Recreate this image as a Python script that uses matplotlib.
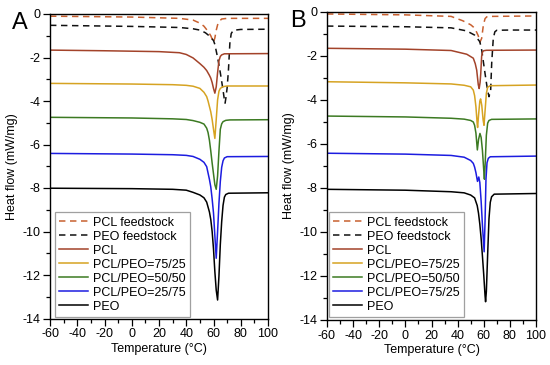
import matplotlib
matplotlib.use("Agg")
import matplotlib.pyplot as plt
from matplotlib.ticker import MultipleLocator

plt.rcParams['font.family'] = ['Liberation Sans', 'DejaVu Sans']
plt.rcParams['axes.unicode_minus'] = False

# ---------------- Panel A data (temperature in °C, heat flow in mW/mg) ----------------
T_A_PCLF = [-60, 0, 35, 45, 50, 53, 56, 58, 59, 60, 61, 62, 63, 64, 66, 70, 100]
HF_A_PCLF = [-0.10, -0.14, -0.20, -0.28, -0.42, -0.56, -0.80, -1.00, -1.15, -1.30, -1.10, -0.75, -0.50, -0.35, -0.23, -0.20, -0.20]

T_A_PEOF = [-60, 0, 35, 45, 50, 54, 56, 58, 60, 61, 62, 63, 64, 65, 66, 67, 68, 68.5, 69, 70, 71, 72, 73, 74.5, 80, 100]
HF_A_PEOF = [-0.52, -0.57, -0.62, -0.68, -0.74, -0.86, -0.96, -1.08, -1.22, -1.40, -1.70, -2.00, -2.35, -2.70, -3.10, -3.50, -3.95, -4.10, -3.90, -3.40, -2.55, -1.35, -0.90, -0.75, -0.71, -0.70]

T_A_PCL = [-60, -20, 20, 35, 40, 45, 50, 53, 55, 57, 58, 59, 60, 61, 62, 63, 64, 65, 66, 68, 100]
HF_A_PCL = [-1.66, -1.69, -1.73, -1.78, -1.86, -2.02, -2.28, -2.45, -2.60, -2.82, -2.95, -3.15, -3.42, -3.64, -3.35, -2.70, -2.15, -1.95, -1.88, -1.83, -1.82]

T_A_7525 = [-60, 0, 30, 40, 45, 50, 53, 55, 56, 57, 58, 59, 60, 61, 62, 63, 64, 65, 67, 70, 100]
HF_A_7525 = [-3.19, -3.22, -3.25, -3.28, -3.32, -3.42, -3.60, -3.80, -4.00, -4.25, -4.50, -4.85, -5.30, -5.72, -4.85, -3.95, -3.55, -3.42, -3.34, -3.31, -3.31]

T_A_5050 = [-60, 0, 30, 40, 45, 50, 53, 55, 56, 57, 58, 59, 60, 61, 62, 63, 64, 65, 66, 67, 69, 72, 100]
HF_A_5050 = [-4.75, -4.78, -4.82, -4.85, -4.90, -4.98, -5.06, -5.25, -5.45, -5.80, -6.30, -6.85, -7.35, -7.85, -8.06, -7.45, -6.30, -5.30, -5.05, -4.95, -4.89, -4.87, -4.86]

T_A_2575 = [-60, 0, 30, 40, 45, 50, 53, 55, 57, 58, 59, 60, 61, 62, 63, 64, 65, 66, 67, 68, 70, 100]
HF_A_2575 = [-6.41, -6.44, -6.47, -6.50, -6.55, -6.68, -6.82, -7.02, -7.60, -7.95, -8.50, -9.15, -10.20, -11.23, -10.00, -8.70, -7.70, -7.05, -6.75, -6.62, -6.56, -6.55]

T_A_PEO = [-60, 0, 30, 40, 45, 50, 53, 55, 57, 58, 59, 60, 61, 62, 63, 64, 65, 66, 67, 68, 69, 71, 100]
HF_A_PEO = [-8.01, -8.03, -8.06, -8.10, -8.20, -8.32, -8.45, -8.65, -9.10, -9.45, -10.00, -10.80, -11.85, -12.70, -13.15, -12.05, -10.60, -9.55, -8.80, -8.42, -8.30, -8.24, -8.22]

# ---------------- Panel B data ----------------
T_B_PCLF = [-60, 0, 35, 44, 50, 52, 54, 55.8, 57, 58.4, 59.7, 61, 62.3, 65, 100]
HF_B_PCLF = [-0.09, -0.13, -0.20, -0.40, -0.58, -0.68, -0.85, -1.08, -1.38, -1.20, -0.60, -0.30, -0.22, -0.20, -0.18]

T_B_PEOF = [-60, 0, 35, 47, 53, 57, 58.5, 59.7, 61, 62.3, 63.3, 64, 65.3, 66.1, 67.3, 68.5, 70, 80, 100]
HF_B_PEOF = [-0.64, -0.67, -0.72, -0.86, -1.05, -1.35, -1.75, -2.26, -2.80, -3.32, -3.65, -3.85, -3.55, -2.30, -1.20, -0.90, -0.83, -0.82, -0.82]

T_B_PCL = [-60, 0, 35, 47, 52, 53.5, 54.6, 55.8, 56.5, 57.2, 57.7, 58.4, 59.2, 60, 62, 100]
HF_B_PCL = [-1.65, -1.69, -1.75, -1.92, -2.10, -2.35, -2.64, -3.30, -3.48, -3.20, -2.80, -2.00, -1.80, -1.76, -1.74, -1.73]

T_B_7525 = [-60, 0, 35, 45, 50, 52, 53, 54, 55, 55.3, 56, 57, 57.6, 58.5, 59.5, 60.2, 61, 62, 63, 65, 100]
HF_B_7525 = [-3.17, -3.22, -3.27, -3.33, -3.40, -3.55, -3.80, -4.30, -5.10, -5.25, -4.70, -4.05, -3.95, -4.25, -4.90, -5.15, -4.50, -3.70, -3.42, -3.35, -3.32]

T_B_5050 = [-60, 0, 35, 45, 50, 52, 53, 54, 55.1, 56, 57.1, 58, 59, 60, 60.5, 61, 62, 63, 64, 66, 100]
HF_B_5050 = [-4.73, -4.77, -4.83, -4.87, -4.93, -5.00, -5.15, -5.50, -6.27, -5.80, -5.52, -5.70, -6.30, -7.20, -7.60, -7.00, -5.60, -5.05, -4.93, -4.88, -4.86]

T_B_2575 = [-60, 0, 35, 45, 50, 52, 53, 54, 55.2, 56.2, 57, 58, 59, 60.3, 61, 61.7, 62.5, 63.5, 65, 100]
HF_B_2575 = [-6.42, -6.46, -6.52, -6.60, -6.75, -6.88, -7.05, -7.30, -7.70, -7.50, -7.75, -8.60, -9.70, -10.90, -9.50, -7.60, -6.85, -6.65, -6.58, -6.55]

T_B_PEO = [-60, 0, 35, 45, 50, 53, 55, 56, 57, 58, 59, 60, 61, 61.4, 62, 63, 64, 65, 66, 68, 100]
HF_B_PEO = [-8.06, -8.10, -8.17, -8.22, -8.32, -8.45, -8.80, -9.15, -9.65, -10.30, -11.10, -11.95, -12.90, -13.17, -12.70, -11.00, -9.40, -8.65, -8.40, -8.28, -8.25]

LABELS_A = ["PCL feedstock", "PEO feedstock", "PCL", "PCL/PEO=75/25",
            "PCL/PEO=50/50", "PCL/PEO=25/75", "PEO"]
LABELS_B = ["PCL feedstock", "PEO feedstock", "PCL", "PCL/PEO=75/25",
            "PCL/PEO=50/50", "PCL/PEO=75/25", "PEO"]

X_TICKS = [-60, -40, -20, 0, 20, 40, 60, 80, 100]
Y_TICKS = [0, -2, -4, -6, -8, -10, -12, -14]

COLORS = ["#c8602f", "#111111", "#a3432a", "#d6a322", "#3c7a22", "#1c1ce0", "#000000"]
DASHED = [True, True, False, False, False, False, False]

fig = plt.figure(figsize=(5.5, 3.65), dpi=100)
W, H = 550.0, 365.0


def make_axes(l, r, t, b):
    return fig.add_axes([l / W, 1 - b / H, (r - l) / W, (b - t) / H])


axA = make_axes(50, 268, 14, 318.5)
axB = make_axes(327, 536, 12, 320)

series_A = [(T_A_PCLF, HF_A_PCLF), (T_A_PEOF, HF_A_PEOF), (T_A_PCL, HF_A_PCL),
            (T_A_7525, HF_A_7525), (T_A_5050, HF_A_5050), (T_A_2575, HF_A_2575),
            (T_A_PEO, HF_A_PEO)]
series_B = [(T_B_PCLF, HF_B_PCLF), (T_B_PEOF, HF_B_PEOF), (T_B_PCL, HF_B_PCL),
            (T_B_7525, HF_B_7525), (T_B_5050, HF_B_5050), (T_B_2575, HF_B_2575),
            (T_B_PEO, HF_B_PEO)]


def draw(ax, series, labels, leg_anchor):
    for (t, hf), lab, c, d in zip(series, labels, COLORS, DASHED):
        ls = (0, (4.2, 3.0)) if d else '-'
        ax.plot(t, hf, color=c, lw=1.1, ls=ls, label=lab)
    ax.set_xlim(-60, 100)
    ax.set_ylim(-14, 0)
    ax.set_xticks(X_TICKS)
    ax.set_yticks(Y_TICKS)
    ax.xaxis.set_minor_locator(MultipleLocator(10))
    ax.yaxis.set_minor_locator(MultipleLocator(1))
    ax.tick_params(which='major', direction='out', length=5, width=0.9,
                   labelsize=9, pad=2)
    ax.tick_params(which='minor', direction='out', length=3, width=0.9)
    for s in ax.spines.values():
        s.set_linewidth(1.0)
    ax.set_xlabel("Temperature (°C)", fontsize=9, labelpad=2)
    ax.set_ylabel("Heat flow (mW/mg)", fontsize=9, labelpad=3)
    leg = ax.legend(loc='lower left', bbox_to_anchor=leg_anchor, fontsize=9,
                    frameon=True, fancybox=False, edgecolor='#888888',
                    handlelength=2.3, handletextpad=0.4, labelspacing=0.16,
                    borderpad=0.35, borderaxespad=0.0)
    leg.get_frame().set_linewidth(0.9)
    return leg


draw(axA, series_A, LABELS_A, (5 / 218.0, 1.5 / 304.5))
draw(axB, series_B, LABELS_B, (2 / 209.0, 3 / 308.0))

fig.text(20 / W, 1 - 23 / H, "A", fontsize=17, ha='center', va='center')
fig.text(297.5 / W, 1 - 21 / H, "B", fontsize=17, ha='center', va='center')

fig.savefig("out.png", dpi=100)
